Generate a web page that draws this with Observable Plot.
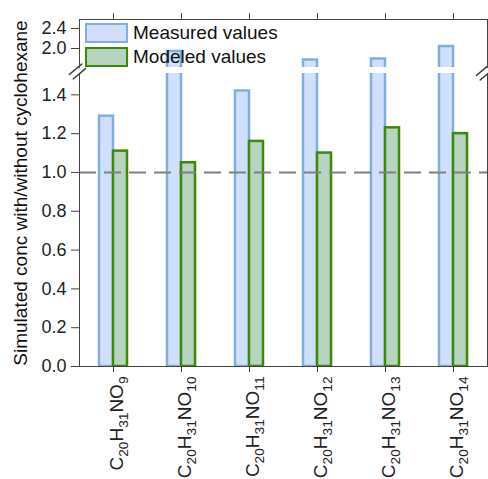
<!DOCTYPE html>
<html><head><meta charset="utf-8">
<script src="https://cdn.jsdelivr.net/npm/d3@7"></script>
<script src="https://cdn.jsdelivr.net/npm/@observablehq/plot@0.6"></script>
<style>
body{margin:0;background:#fff;}
#wrap{position:relative;width:488px;height:479px;font-family:"Liberation Sans",Arial,sans-serif;}
.sw{position:absolute;left:85px;width:43px;height:20px;box-sizing:border-box;border-width:2.5px;border-style:solid;}
.lt{position:absolute;left:133px;height:20px;line-height:20px;font-size:19px;color:#111;white-space:nowrap;}
</style></head><body><div id="wrap"></div>
<script>
const categories = ["C20H31NO9","C20H31NO10","C20H31NO11","C20H31NO12","C20H31NO13","C20H31NO14"];
const measured = [1.29, 1.94, 1.42, 1.77, 1.79, 2.04];
const modeled  = [1.11, 1.05, 1.16, 1.10, 1.23, 1.20];
const lowerTicks = [0, 0.2, 0.4, 0.6, 0.8, 1.0, 1.2, 1.4];
const upperTicks = [2.0, 2.4];
const seriesNames = ["Measured values", "Modeled values"];
const yLabel = "Simulated conc with/without cyclohexane";
const reference = [1.0];

const measuredData = categories.map((c, i) => ({cat: c, v: measured[i]}));
const modeledData = categories.map((c, i) => ({cat: c, v: modeled[i]}));

const font = '"Liberation Sans", Arial, sans-serif';
const colM = {fill: "#d0e0fc", stroke: "#7eaee4"};
const colG = {fill: "#b6d4c0", stroke: "#3b8a04"};
const baseStyle = {fontFamily: font, fontSize: "18px", color: "#222", background: "transparent", overflow: "visible"};

const breakShape = {draw(ctx, l) { const h = l / 2; ctx.moveTo(-3, h); ctx.lineTo(-3, -h); ctx.moveTo(3, h); ctx.lineTo(3, -h); }};

const lower = Plot.plot({
  width: 488, height: 479, marginLeft: 79, marginRight: 1, marginTop: 73, marginBottom: 113,
  style: baseStyle,
  x: {domain: categories, padding: 0},
  y: {domain: [0, 1.51]},
  marks: [
    Plot.barY(measuredData, {x: "cat", y: "v", ...colM, strokeWidth: 2.5, insetLeft: 20, insetRight: 34, clip: true}),
    Plot.barY(modeledData, {x: "cat", y: "v", ...colG, strokeWidth: 2.5, insetLeft: 34, insetRight: 20, clip: true}),
    Plot.ruleY(reference, {stroke: "#808080", strokeWidth: 2, strokeDasharray: "17,8"}),
    Plot.frame({anchor: "left", stroke: "#444"}),
    Plot.frame({anchor: "right", stroke: "#444"}),
    Plot.frame({anchor: "bottom", stroke: "#444"}),
    Plot.axisY({ticks: lowerTicks, tickFormat: ".1f", tickSize: 8, tickPadding: 5, label: null, fontSize: 18, stroke: "#444"}),
    Plot.axisX({tickRotate: -90, tickSize: 6, tickPadding: 4, label: null, fontSize: 19, stroke: "#444"}),
    Plot.text([yLabel], {text: d => d, frameAnchor: "left", textAnchor: "middle", rotate: -90, dx: -59, dy: -27, fontSize: 19, fill: "#111"}),
    Plot.vector([0], {frameAnchor: "top-left", length: 16, rotate: 50, anchor: "start", shape: breakShape, stroke: "#444", strokeWidth: 1.5, dx: -2, dy: -2}),
    Plot.vector([0], {frameAnchor: "top-right", length: 16, rotate: 50, anchor: "start", shape: breakShape, stroke: "#444", strokeWidth: 1.5, dx: -3, dy: -1})
  ]
});

lower.querySelectorAll('g[aria-label="x-axis tick label"] text').forEach(t => {
  const s = t.textContent;
  const d0 = t.getAttribute("dy");
  let px = 0;
  if (d0) px = d0.endsWith("em") ? parseFloat(d0) * 19 : parseFloat(d0);
  t.setAttribute("dy", (px + 3) + "px");
  t.textContent = "";
  s.match(/[A-Za-z]+|\d+/g).forEach(part => {
    const ts = document.createElementNS("http://www.w3.org/2000/svg", "tspan");
    ts.textContent = part;
    if (/\d/.test(part)) { ts.setAttribute("baseline-shift", "-5px"); ts.setAttribute("font-size", "72%"); }
    t.appendChild(ts);
  });
});

const upper = Plot.plot({
  width: 488, height: 72, marginLeft: 79, marginRight: 1, marginTop: 19, marginBottom: 5,
  style: baseStyle,
  x: {domain: categories, padding: 0},
  y: {domain: [1.62, 2.58]},
  marks: [
    Plot.barY(measuredData, {x: "cat", y: "v", ...colM, strokeWidth: 2.5, insetLeft: 20, insetRight: 34, clip: true}),
    Plot.frame({anchor: "top", stroke: "#444"}),
    Plot.frame({anchor: "left", stroke: "#444"}),
    Plot.frame({anchor: "right", stroke: "#444"}),
    Plot.axisY({ticks: upperTicks, tickFormat: ".1f", tickSize: 8, tickPadding: 5, label: null, fontSize: 18, stroke: "#444"}),
    Plot.axisX({anchor: "top", tickSize: 7, tickFormat: () => "", label: null, stroke: "#444"})
  ]
});
upper.style.position = "absolute";
upper.style.left = "0px";
upper.style.top = "0px";

const wrap = document.getElementById("wrap");
wrap.appendChild(lower);
wrap.appendChild(upper);

[[colM, 23], [colG, 47]].forEach(([c, top], i) => {
  const sw = document.createElement("div");
  sw.className = "sw";
  sw.style.top = top + "px";
  sw.style.background = c.fill;
  sw.style.borderColor = c.stroke;
  wrap.appendChild(sw);
  const lt = document.createElement("div");
  lt.className = "lt";
  lt.style.top = top + "px";
  lt.textContent = seriesNames[i];
  wrap.appendChild(lt);
});
</script></body></html>
